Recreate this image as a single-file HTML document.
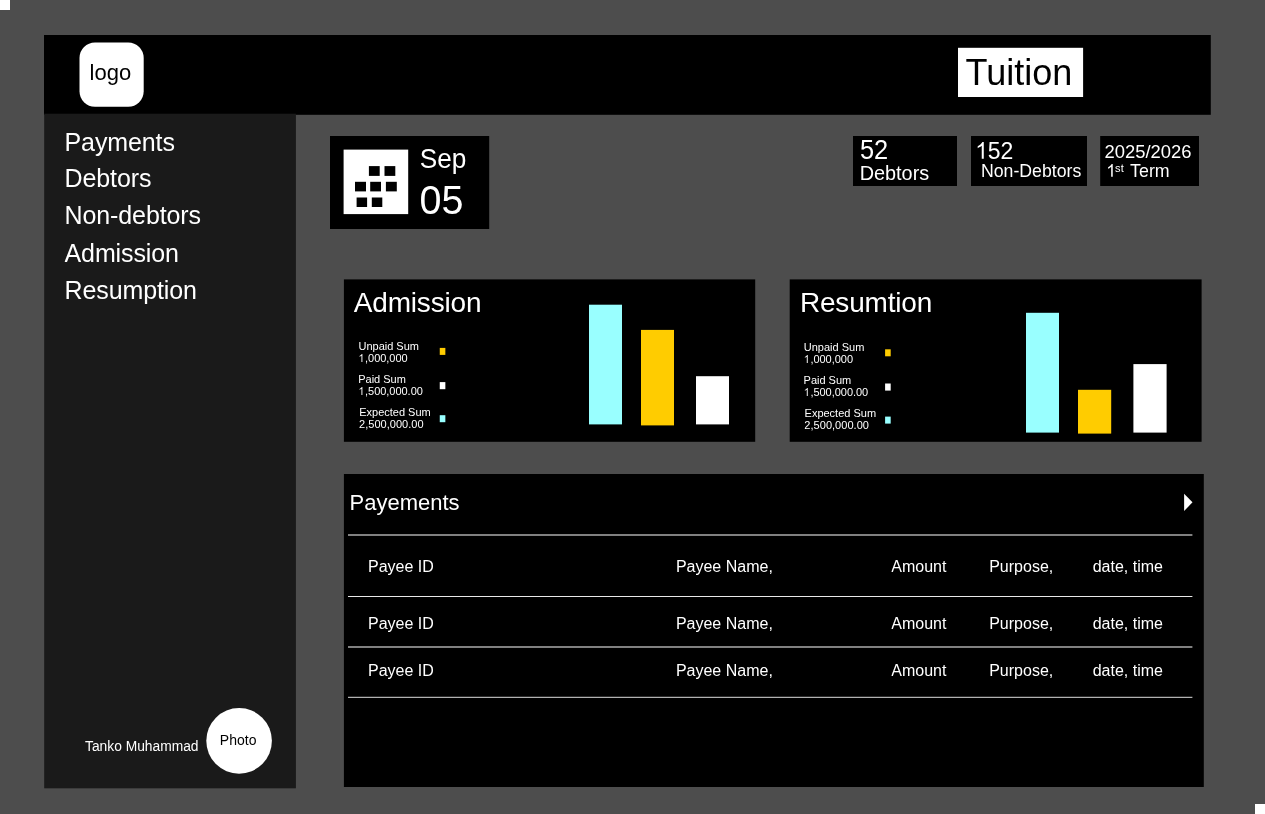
<!DOCTYPE html>
<html><head><meta charset="utf-8"><title>Tuition</title>
<style>
html,body{margin:0;padding:0;}
body{width:1265px;height:814px;background:#4d4d4d;overflow:hidden;position:relative;font-family:"Liberation Sans",sans-serif;}
header,nav,footer,section{display:block;position:static;margin:0;padding:0;}
svg,span{position:absolute;display:block;}
span{line-height:1;white-space:nowrap;will-change:transform;}
span i{font-style:normal;color:transparent;}
</style></head><body>
<svg width="1265" height="814" viewBox="0 0 1265 814" style="left:0;top:0">
<rect x="0" y="0" width="10" height="10" fill="#fff"/>
<rect x="1255" y="804" width="10" height="10" fill="#fff"/>
<rect x="44" y="35" width="1166.8" height="79.8" fill="#000"/>
<rect x="44.2" y="113.7" width="251.7" height="674.6" fill="#1a1a1a"/>
<rect x="79.5" y="42.4" width="64.2" height="64.3" fill="#fff" rx="15.5"/>
<rect x="958" y="47.8" width="125.1" height="49.2" fill="#fff"/>
<circle cx="239.1" cy="740.85" r="32.8" fill="#fff"/>
<rect x="330" y="136" width="159.2" height="93" fill="#000"/>
<rect x="343.6" y="149.6" width="64.6" height="64.5" fill="#fff"/>
<rect x="368.9" y="166.1" width="10.8" height="9.8" fill="#000"/>
<rect x="384.5" y="166.1" width="10.8" height="9.8" fill="#000"/>
<rect x="355" y="181.8" width="11" height="9.6" fill="#000"/>
<rect x="370.2" y="181.8" width="10.8" height="9.6" fill="#000"/>
<rect x="385.9" y="181.8" width="10.9" height="9.6" fill="#000"/>
<rect x="356.6" y="197.5" width="10.5" height="9.5" fill="#000"/>
<rect x="371.8" y="197.5" width="10.5" height="9.5" fill="#000"/>
<rect x="853" y="136" width="104" height="50" fill="#000"/>
<rect x="971" y="136" width="116" height="50" fill="#000"/>
<rect x="1100.2" y="136" width="98.8" height="50" fill="#000"/>
<path transform="translate(975.2 158.8) scale(0.01123 -0.011475)" d="M763 0H583V1147Q518 1085 412.5 1023T223 930V1104Q373 1174.5 485 1275T644 1466H763Z" fill="#fff"/>
<path transform="translate(1106.2 176.7) scale(0.008545 -0.008594)" d="M763 0H583V1147Q518 1085 412.5 1023T223 930V1104Q373 1174.5 485 1275T644 1466H763Z" fill="#fff"/>
<rect x="343.9" y="279.4" width="411.3" height="162.4" fill="#000"/>
<path transform="translate(358.3 361.9) scale(0.005371 -0.00542)" d="M763 0H583V1147Q518 1085 412.5 1023T223 930V1104Q373 1174.5 485 1275T644 1466H763Z" fill="#fff"/>
<rect x="439.75" y="347.9" width="5.6" height="7.0" fill="#ffcc00"/>
<path transform="translate(358.3 394.9) scale(0.005371 -0.00542)" d="M763 0H583V1147Q518 1085 412.5 1023T223 930V1104Q373 1174.5 485 1275T644 1466H763Z" fill="#fff"/>
<rect x="439.75" y="382.1" width="5.6" height="7.1" fill="#fff"/>
<rect x="439.75" y="415.2" width="5.6" height="7.0" fill="#99ffff"/>
<rect x="589" y="304.7" width="33" height="119.7" fill="#99ffff"/>
<rect x="641" y="329.9" width="33" height="95.5" fill="#ffcc00"/>
<rect x="696" y="376.2" width="33" height="48.2" fill="#fff"/>
<rect x="789.7" y="279.4" width="411.9" height="162.4" fill="#000"/>
<path transform="translate(803.65 362.9) scale(0.005371 -0.00542)" d="M763 0H583V1147Q518 1085 412.5 1023T223 930V1104Q373 1174.5 485 1275T644 1466H763Z" fill="#fff"/>
<rect x="885.1" y="349.3" width="5.6" height="7.0" fill="#ffcc00"/>
<path transform="translate(803.65 395.9) scale(0.005371 -0.00542)" d="M763 0H583V1147Q518 1085 412.5 1023T223 930V1104Q373 1174.5 485 1275T644 1466H763Z" fill="#fff"/>
<rect x="885.1" y="383.5" width="5.6" height="7.1" fill="#fff"/>
<rect x="885.1" y="416.6" width="5.6" height="7.0" fill="#99ffff"/>
<rect x="1026" y="312.8" width="33" height="119.8" fill="#99ffff"/>
<rect x="1078" y="389.8" width="33.2" height="43.8" fill="#ffcc00"/>
<rect x="1133.4" y="364.1" width="33.2" height="68.5" fill="#fff"/>
<rect x="343.9" y="474" width="859.9" height="313" fill="#000"/>
<path d="M1184.1 493.7 L1192.5 502.2 L1184.1 511.1 Z" fill="#fff"/>
<rect x="348" y="534.5" width="844.4" height="1.0" fill="#fff"/>
<rect x="348" y="596" width="844.4" height="1" fill="#e8e8e8"/>
<rect x="348" y="646.5" width="844.4" height="1.0" fill="#fff"/>
<rect x="348" y="696.8" width="844.4" height="1.0" fill="#ddd"/>
</svg>
<header class="topbar">
<span style="left:89px;top:62px;font-size:22px;color:#000;transform:translate(0.6px,0px);">logo</span>
<span style="left:965px;top:55px;font-size:36px;color:#000;transform:translate(0.6px,0px);">Tuition</span>
</header>
<nav class="sidenav">
<span style="left:64px;top:130px;font-size:25px;color:#fff;letter-spacing:-0.1px;transform:translate(0.5px,0px);">Payments</span>
<span style="left:64px;top:166px;font-size:25px;color:#fff;letter-spacing:-0.1px;transform:translate(0.5px,0px);">Debtors</span>
<span style="left:64px;top:203px;font-size:25px;color:#fff;letter-spacing:-0.1px;transform:translate(0.5px,0px);">Non-debtors</span>
<span style="left:64px;top:241px;font-size:25px;color:#fff;letter-spacing:-0.1px;transform:translate(0.5px,0px);">Admission</span>
<span style="left:64px;top:278px;font-size:25px;color:#fff;letter-spacing:-0.1px;transform:translate(0.5px,0px);">Resumption</span>
</nav>
<footer class="user">
<span style="left:85px;top:740px;font-size:13.8px;color:#fff;">Tanko Muhammad</span>
<span style="left:219px;top:733px;font-size:14px;color:#000;transform:translate(0.85px,0px);">Photo</span>
</footer>
<section class="datecard">
<span style="left:419px;top:146px;font-size:26.2px;color:#fff;transform-origin:0 22px;transform:translate(0.8px,0px) scaleY(1.04);">Sep</span>
<span style="left:419px;top:181px;font-size:39.5px;color:#fff;transform-origin:0 33px;transform:translate(0.6px,0px) scaleY(1.05);">05</span>
</section>
<section class="stats">
<span style="left:860px;top:138px;font-size:25.4px;color:#fff;transform-origin:0 21px;transform:translate(0.0px,0.4px) scaleY(1.08);">52</span>
<span style="left:859px;top:164px;font-size:19.85px;color:#fff;transform:translate(0.7px,0px);">Debtors</span>
<span style="left:974px;top:140px;font-size:23px;color:#fff;transform-origin:0 19px;transform:translate(0.9px,0px) scaleY(1.02);"><i>1</i>52</span>
<span style="left:980px;top:163px;font-size:17.7px;color:#fff;transform:translate(0.95px,0px);">Non-Debtors</span>
<span style="left:1104px;top:143px;font-size:18.4px;color:#fff;transform:translate(0.5px,0px);">2025/2026</span>
<span style="left:1106px;top:163px;font-size:17.5px;color:#fff;transform:translate(0.2px,0px);"><i>1</i></span>
<span style="left:1115px;top:163px;font-size:11px;color:#fff;letter-spacing:0.2px;">st</span>
<span style="left:1130px;top:163px;font-size:17.8px;color:#fff;transform:translate(0.1px,0px);">Term</span>
</section>
<section class="card-admission">
<span style="left:353px;top:289px;font-size:28px;color:#fff;letter-spacing:-0.18px;transform:translate(0.75px,0px);">Admission</span>
<span style="left:358px;top:341px;font-size:11px;color:#fff;transform:translate(0.45px,0px);">Unpaid Sum</span>
<span style="left:358px;top:353px;font-size:11px;color:#fff;letter-spacing:-0.03px;transform:translate(0.95px,0px);"><i>1</i>,000,000</span>
<span style="left:358px;top:374px;font-size:11px;color:#fff;transform:translate(0.2px,0px);">Paid Sum</span>
<span style="left:358px;top:386px;font-size:11px;color:#fff;letter-spacing:-0.03px;transform:translate(0.95px,0px);"><i>1</i>,500,000.00</span>
<span style="left:359px;top:407px;font-size:11px;color:#fff;transform:translate(0.2px,0px);">Expected Sum</span>
<span style="left:359px;top:419px;font-size:11px;color:#fff;letter-spacing:0.03px;">2,500,000.00</span>
</section>
<section class="card-resumption">
<span style="left:799px;top:289px;font-size:28px;color:#fff;letter-spacing:-0.18px;transform:translate(0.9px,0px);">Resumtion</span>
<span style="left:803px;top:342px;font-size:11px;color:#fff;transform:translate(0.8px,0px);">Unpaid Sum</span>
<span style="left:804px;top:354px;font-size:11px;color:#fff;letter-spacing:-0.03px;transform:translate(0.3px,0px);"><i>1</i>,000,000</span>
<span style="left:803px;top:375px;font-size:11px;color:#fff;transform:translate(0.55px,0px);">Paid Sum</span>
<span style="left:804px;top:387px;font-size:11px;color:#fff;letter-spacing:-0.03px;transform:translate(0.3px,0px);"><i>1</i>,500,000.00</span>
<span style="left:804px;top:408px;font-size:11px;color:#fff;transform:translate(0.55px,0px);">Expected Sum</span>
<span style="left:804px;top:420px;font-size:11px;color:#fff;letter-spacing:0.03px;transform:translate(0.35px,0px);">2,500,000.00</span>
</section>
<section class="payments">
<span style="left:349px;top:492px;font-size:22px;color:#fff;transform-origin:0 18px;transform:translate(0.5px,0px) scaleY(1.035);">Payements</span>
<span style="left:368px;top:559px;font-size:16px;color:#fff;">Payee ID</span>
<span style="left:675px;top:559px;font-size:16px;color:#fff;transform:translate(0.9px,0px);">Payee Name,</span>
<span style="left:891px;top:559px;font-size:16px;color:#fff;transform:translate(0.3px,0px);">Amount</span>
<span style="left:989px;top:559px;font-size:16px;color:#fff;transform:translate(0.2px,0px);">Purpose,</span>
<span style="left:1092px;top:559px;font-size:16px;color:#fff;transform:translate(0.7px,0px);">date, time</span>
<span style="left:368px;top:616px;font-size:16px;color:#fff;">Payee ID</span>
<span style="left:675px;top:616px;font-size:16px;color:#fff;transform:translate(0.9px,0px);">Payee Name,</span>
<span style="left:891px;top:616px;font-size:16px;color:#fff;transform:translate(0.3px,0px);">Amount</span>
<span style="left:989px;top:616px;font-size:16px;color:#fff;transform:translate(0.2px,0px);">Purpose,</span>
<span style="left:1092px;top:616px;font-size:16px;color:#fff;transform:translate(0.7px,0px);">date, time</span>
<span style="left:368px;top:663px;font-size:16px;color:#fff;">Payee ID</span>
<span style="left:675px;top:663px;font-size:16px;color:#fff;transform:translate(0.9px,0px);">Payee Name,</span>
<span style="left:891px;top:663px;font-size:16px;color:#fff;transform:translate(0.3px,0px);">Amount</span>
<span style="left:989px;top:663px;font-size:16px;color:#fff;transform:translate(0.2px,0px);">Purpose,</span>
<span style="left:1092px;top:663px;font-size:16px;color:#fff;transform:translate(0.7px,0px);">date, time</span>
</section>
</body></html>
